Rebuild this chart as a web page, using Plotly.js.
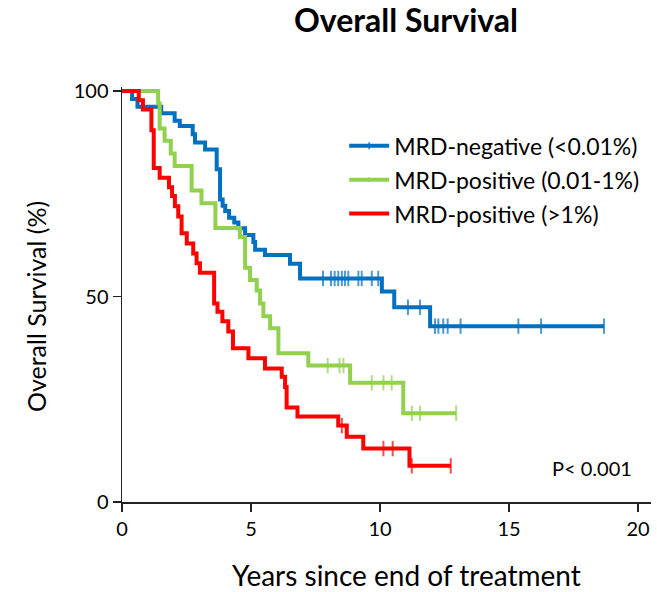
<!DOCTYPE html>
<html>
<head>
<meta charset="utf-8">
<script src="https://cdn.plot.ly/plotly-3.0.1.min.js"></script>
<style>html,body{margin:0;padding:0;background:#fff;}#chart{width:657px;height:592px;}</style>
</head>
<body>
<div id="chart"></div>
<script>
// Group names
var groupNames = ["MRD-negative (&lt;0.01%)", "MRD-positive (0.01-1%)", "MRD-positive (&gt;1%)"];
var groupColors = ["#0070C0", "#92D050", "#FF0000"];

// MRD-negative: event times (years) and survival (%) after each step
var negTimes = [0.39, 0.6, 1.52, 2.04, 2.24, 2.74, 2.83, 3.22, 3.67, 3.8, 3.9, 4.0, 4.15, 4.35, 4.51, 4.77, 5.09, 5.16, 5.54, 6.51, 6.9, 10.07, 10.55, 11.94];
var negSurv  = [98.1, 96.2, 94.6, 92.8, 91.5, 89.5, 87.5, 85.8, 81.0, 73.6, 72.1, 70.8, 69.2, 68.0, 66.6, 65.0, 63.3, 61.4, 60.1, 58.0, 54.4, 51.2, 47.4, 42.8];
var negCensor = [7.79, 8.1, 8.24, 8.38, 8.52, 8.64, 8.77, 9.16, 9.29, 9.68, 9.93, 11.08, 11.55, 12.13, 12.26, 12.45, 12.62, 13.12, 15.36, 16.24, 18.68];

// MRD-positive (0.01-1%)
var midTimes = [1.4, 1.46, 1.65, 1.89, 2.04, 2.7, 3.08, 3.62, 4.57, 4.77, 4.96, 5.22, 5.35, 5.48, 5.74, 6.06, 7.22, 8.84, 10.9];
var midSurv  = [97.0, 90.9, 87.9, 84.8, 81.8, 75.8, 72.7, 66.7, 64.5, 57.0, 54.0, 51.5, 48.3, 45.2, 42.3, 36.2, 33.2, 29.0, 21.6];
var midCensor = [7.97, 8.43, 8.58, 9.68, 10.13, 10.45, 11.23, 11.55, 12.95];

// MRD-positive (>1%)
var highTimes = [0.65, 0.81, 1.14, 1.23, 1.46, 1.82, 1.94, 2.05, 2.18, 2.31, 2.51, 2.76, 2.89, 3.02, 3.57, 3.7, 3.89, 4.12, 4.3, 4.9, 5.54, 6.19, 6.32, 6.38, 6.8, 8.38, 8.71, 9.35, 11.14];
var highSurv  = [97.8, 95.5, 90.5, 81.3, 78.9, 76.6, 74.5, 72.0, 69.5, 65.4, 62.9, 60.5, 58.1, 55.8, 48.3, 46.3, 44.0, 41.5, 37.4, 35.0, 32.5, 30.5, 28.0, 23.0, 20.8, 18.6, 15.9, 13.0, 8.8];
var highCensor = [8.52, 10.13, 10.49, 11.23, 12.74];

var xTickVals = [0, 5, 10, 15, 20];
var yTickVals = [0, 50, 100];

function survAt(times, surv, t) {
  var s = 100;
  for (var i = 0; i < times.length; i++) { if (times[i] <= t) s = surv[i]; }
  return s;
}

function buildTrace(times, surv, censor, idx) {
  var pts = [{x: 0, y: 100, c: false}];
  times.forEach(function (t, i) { pts.push({x: t, y: surv[i], c: false}); });
  censor.forEach(function (t) { pts.push({x: t, y: survAt(times, surv, t), c: true}); });
  pts.sort(function (a, b) { return a.x - b.x; });
  return {
    type: "scatter",
    mode: "lines+markers",
    name: groupNames[idx],
    legendgroup: "g" + idx,
    x: pts.map(function (p) { return p.x; }),
    y: pts.map(function (p) { return p.y; }),
    line: {shape: "hv", color: groupColors[idx], width: 4},
    marker: {
      symbol: "line-ns",
      size: pts.map(function (p) { return p.c ? 11 : 0; }),
      line: {color: groupColors[idx], width: 2},
      color: groupColors[idx]
    },
    cliponaxis: false,
    hoverinfo: "x+y+name"
  };
}

var data = [
  buildTrace(negTimes, negSurv, negCensor, 0),
  buildTrace(midTimes, midSurv, midCensor, 1),
  buildTrace(highTimes, highSurv, highCensor, 2)
];

var FONT = "Lato, 'Open Sans', sans-serif";

var layout = {
  width: 657,
  height: 592,
  margin: {l: 122, r: 6, t: 87, b: 90},
  paper_bgcolor: "#fff",
  plot_bgcolor: "#fff",
  font: {family: FONT, color: "#000", size: 20},
  title: {
    text: "<b>Overall Survival</b>",
    font: {family: FONT, size: 32, color: "#000"},
    x: 406 / 657, xref: "container", xanchor: "center",
    y: 0.965, yref: "container", yanchor: "middle"
  },
  xaxis: {
    range: [0, 20.5],
    tickvals: xTickVals,
    ticktext: xTickVals.map(String),
    ticks: "outside", ticklen: 8, tickwidth: 1.5, tickcolor: "#222",
    showline: true, linecolor: "#222", linewidth: 1.5,
    showgrid: false, zeroline: false,
    tickfont: {family: FONT, size: 20, color: "#000"}
  },
  yaxis: {
    range: [0, 101],
    tickvals: yTickVals,
    ticktext: yTickVals.map(String),
    ticks: "outside", ticklen: 8, tickwidth: 1.5, tickcolor: "#222",
    showline: true, linecolor: "#222", linewidth: 1.5,
    showgrid: false, zeroline: false,
    tickfont: {family: FONT, size: 20, color: "#000"}
  },
  legend: {
    x: 0.42, y: 0.91, xanchor: "left", yanchor: "top",
    bgcolor: "rgba(0,0,0,0)",
    font: {family: FONT, size: 23, color: "#000"},
    traceorder: "grouped",
    tracegroupgap: 1,
    itemwidth: 40
  },
  showlegend: true,
  annotations: [
    {text: "Overall Survival (%)", textangle: -90, xref: "paper", yref: "paper", x: (36 - 122) / 529, y: (502 - 307) / 415, xanchor: "center", yanchor: "middle", showarrow: false, font: {family: FONT, size: 25, color: "#000"}},
    {text: "Years since end of treatment", xref: "paper", yref: "paper", x: (406 - 122) / 529, y: (502 - 575) / 415, xanchor: "center", yanchor: "middle", showarrow: false, font: {family: FONT, size: 28, color: "#000"}},
    {text: "P&lt; 0.001", xref: "paper", yref: "paper", x: (592 - 122) / 529, y: (502 - 468) / 415, xanchor: "center", yanchor: "middle", showarrow: false, font: {family: FONT, size: 20, color: "#000"}}
  ]
};

Plotly.newPlot("chart", data, layout, {displayModeBar: false, staticPlot: true});
</script>
</body>
</html>
